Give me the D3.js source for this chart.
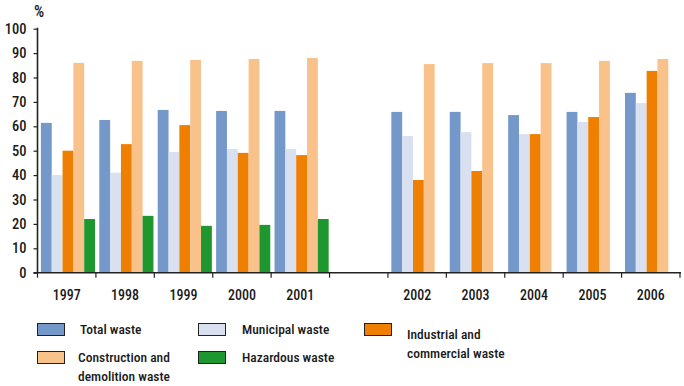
<html>
<head>
    <meta charset="UTF-8">
    <title>Waste recycling</title>
    <script src="https://cdnjs.cloudflare.com/ajax/libs/d3/7.8.5/d3.min.js"></script>
    <style>
        body { margin: 0; background: #fff; }
        text { font-family: Roboto, sans-serif; font-stretch: condensed; font-weight: 500; fill: #1a1a1a; }
    </style>
</head>
<body>
    <svg id="chart" width="684" height="386"></svg>
    <script>
        // categories, the "gap" one is the empty slot between 2001 and 2002
        var years = ["1997", "1998", "1999", "2000", "2001", "gap", "2002", "2003", "2004", "2005", "2006"];
        var seriesNames = ["Total waste", "Municipal waste", "Industrial and commercial waste",
            "Construction and demolition waste", "Hazardous waste"];
        var seriesColors = ["#7398c9", "#d9e0f0", "#ef7f00", "#f8c28a", "#1d972e"];

        var totalWaste = [61.4, 62.6, 66.7, 66.3, 66.3, null, 65.9, 65.9, 64.6, 65.9, 73.7];
        var municipalWaste = [40.0, 41.0, 49.5, 50.7, 50.7, null, 56.0, 57.6, 56.8, 61.8, 69.5];
        var industrialWaste = [50.0, 52.7, 60.5, 49.1, 48.2, null, 38.0, 41.7, 56.8, 63.8, 82.7];
        var constructionWaste = [86.0, 86.8, 87.2, 87.6, 88.0, null, 85.5, 85.9, 85.9, 86.8, 87.6];
        var hazardousWaste = [22.0, 23.3, 19.2, 19.6, 22.0, null, null, null, null, null, null];

        var yTicks = [0, 10, 20, 30, 40, 50, 60, 70, 80, 90, 100];

        var allSeries = [totalWaste, municipalWaste, industrialWaste, constructionWaste, hazardousWaste];

        var svg = d3.select("#chart");
        var mLeft = 37.5, mRight = 680, mTop = 28.7, mBottom = 272.7;

        var x = d3.scaleBand().domain(years).range([mLeft, mRight]).padding(0);
        var bw = x.bandwidth();
        var xInner = d3.scaleBand().domain(d3.range(5)).range([bw * 0.058, bw * 0.985]).padding(0);
        var y = d3.scaleLinear().domain([0, 100]).range([mBottom, mTop]);

        // bars
        allSeries.forEach(function (vals, si) {
            svg.append("g").selectAll("rect")
                .data(vals.map(function (v, i) { return { year: years[i], value: v }; })
                    .filter(function (d) { return d.value != null; }))
                .enter()
                .append("rect")
                .attr("x", function (d) { return x(d.year) + xInner(si); })
                .attr("width", xInner.bandwidth())
                .attr("y", function (d) { return y(d.value); })
                .attr("height", function (d) { return y(0) - y(d.value); })
                .style("fill", seriesColors[si]);
        });

        // y axis
        var yAxis = d3.axisLeft(y).tickValues(yTicks).tickSize(4).tickPadding(7);
        var gy = svg.append("g").attr("transform", "translate(" + mLeft + ",0)").call(yAxis);
        gy.select(".domain").attr("stroke", "#222").attr("stroke-width", 1.6).attr("d", "M0," + mBottom + "V" + (mTop - 1));
        gy.selectAll(".tick line").attr("stroke", "#222").attr("stroke-width", 1.2);
        gy.attr("font-family", null).attr("font-size", null);
        gy.selectAll(".tick text").style("font-size", "14.5px").attr("fill", "#1a1a1a");

        // x axis: baseline and ticks at band edges
        svg.append("line")
            .attr("x1", mLeft - 4).attr("x2", mRight + 1)
            .attr("y1", mBottom).attr("y2", mBottom)
            .attr("stroke", "#222").attr("stroke-width", 1.6);
        var edges = years.map(function (d) { return x(d); }).concat([mRight]);
        svg.append("g").selectAll("line")
            .data(edges)
            .enter()
            .append("line")
            .attr("x1", function (d) { return d; }).attr("x2", function (d) { return d; })
            .attr("y1", mBottom).attr("y2", mBottom + 5)
            .attr("stroke", "#222").attr("stroke-width", 1.2);
        svg.append("g").selectAll("text")
            .data(years.filter(function (d) { return d !== "gap"; }))
            .enter()
            .append("text")
            .attr("x", function (d) { return x(d) + bw / 2; })
            .attr("y", 300)
            .attr("text-anchor", "middle")
            .style("font-size", "14px")
            .text(function (d) { return d; });

        svg.append("text").attr("x", 34).attr("y", 17).style("font-size", "16px").text("%");

        // legend
        var legendItems = [
            { i: 0, x: 37, y: 323, lines: ["Total waste"], tx: 80 },
            { i: 1, x: 198, y: 323, lines: ["Municipal waste"], tx: 242 },
            { i: 2, x: 364, y: 323, lines: ["Industrial and", "commercial waste"], tx: 407, ty: 339 },
            { i: 3, x: 37, y: 351, lines: ["Construction and", "demolition waste"], tx: 78 },
            { i: 4, x: 198, y: 351, lines: ["Hazardous waste"], tx: 242 }
        ];
        var lg = svg.append("g").selectAll("g").data(legendItems).enter().append("g");
        lg.append("rect")
            .attr("x", function (d) { return d.x + 0.5; })
            .attr("y", function (d) { return d.y + 0.5; })
            .attr("width", 27).attr("height", 12)
            .style("fill", function (d) { return seriesColors[d.i]; })
            .style("stroke", "#222").style("stroke-width", 1);
        lg.each(function (d) {
            var t = d3.select(this).append("text")
                .attr("x", d.tx)
                .attr("y", d.ty || d.y + 11)
                .style("font-size", "13.5px");
            d.lines.forEach(function (l, k) {
                t.append("tspan").attr("x", d.tx).attr("dy", k ? 19 : 0).text(l);
            });
        });
    </script>
</body>
</html>
